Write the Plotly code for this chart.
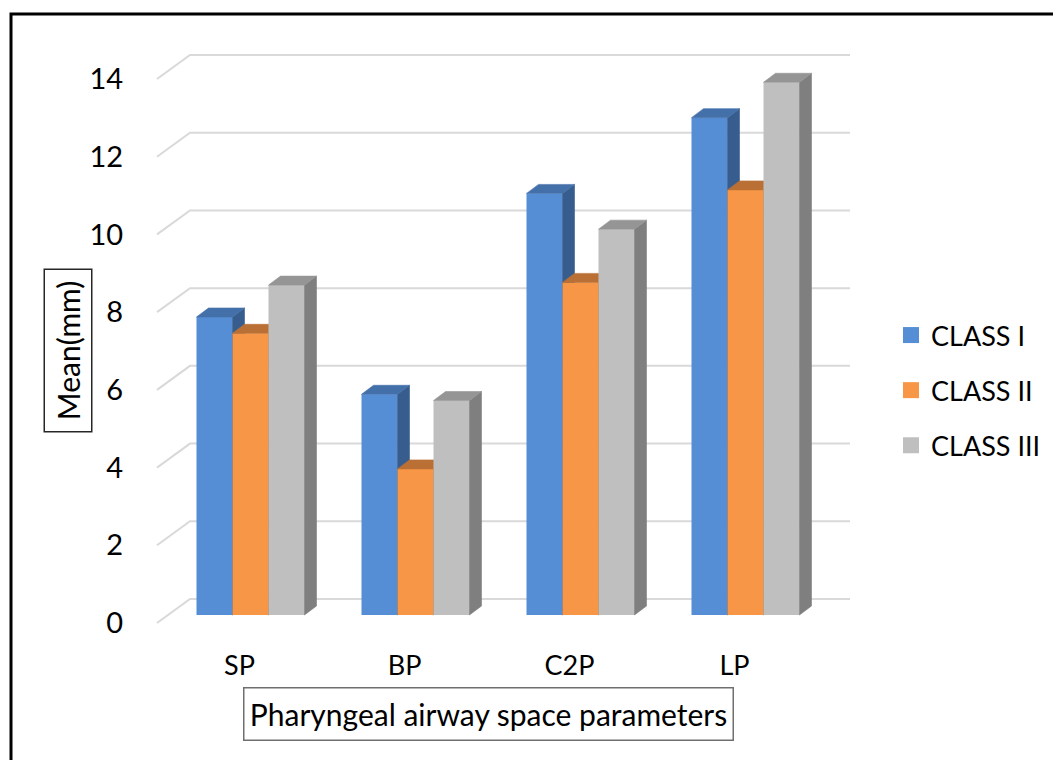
import plotly.graph_objects as go

# ---------------- data ----------------
categories = ["SP", "BP", "C2P", "LP"]
series_names = ["CLASS I", "CLASS II", "CLASS III"]
class_1 = [7.67, 5.68, 10.85, 12.80]
class_2 = [7.25, 3.76, 8.56, 10.94]
class_3 = [8.49, 5.52, 9.93, 13.71]
y_ticks = [0, 2, 4, 6, 8, 10, 12, 14]
x_title = "Pharyngeal airway space parameters"
y_title = "Mean(mm)"

# ---------------- styling / geometry ----------------
front_colors = ["#558ED5", "#F79646", "#BFBFBF"]
top_colors = ["#4470AA", "#BA7035", "#959595"]
side_colors = ["#375D8E", "#B4672A", "#7F7F7F"]
FONT = "Lato"
FS = 27

W, H = 1053, 760
PX_X = 165.0     # pixels per category slot
PX_Y = 38.857    # pixels per value unit
X0_PX = 250.5    # pixel of category 0 centre (bar plane)
Y0_PX = 615.0    # pixel of value 0 (bar plane)
PL, PR, PT, PB = 150, 870, 40, 640


def xd(px):
    return (px - X0_PX) / PX_X


def yd(py):
    return (Y0_PX - py) / PX_Y


def dxu(px):
    return px / PX_X


def dyu(px):
    return -px / PX_Y


# oblique depth offsets (pixels) relative to bar front plane
FRONT = (dxu(-11), dyu(8))
BACK = (dxu(22), dyu(-16))
BARD = (dxu(12), dyu(-9))
BAR_W = 36 / PX_X

series_values = [class_1, class_2, class_3]
n_cat = len(categories)
xpos = list(range(n_cat))

fig = go.Figure()

for k, (name, vals) in enumerate(zip(series_names, series_values)):
    ax = "" if k == 0 else str(k + 1)
    xa, ya = "x" + ax, "y" + ax
    off = -1.5 * BAR_W + k * BAR_W
    fig.add_trace(go.Bar(
        x=xpos, y=vals, width=[BAR_W] * n_cat, offset=off,
        marker=dict(color=front_colors[k], line=dict(width=0)),
        name=name, legendgroup=name, showlegend=False,
        xaxis=xa, yaxis=ya, hovertemplate="%{y}<extra>" + name + "</extra>",
    ))
    tx, ty, sx, sy = [], [], [], []
    for i, v in enumerate(vals):
        xl = i + off
        xr = xl + BAR_W
        ddx, ddy = BARD
        tx += [xl, xr, xr + ddx, xl + ddx, xl, None]
        ty += [v, v, v + ddy, v + ddy, v, None]
        sx += [xr, xr + ddx, xr + ddx, xr, xr, None]
        sy += [0, ddy, v + ddy, v, 0, None]
    fig.add_trace(go.Scatter(
        x=sx, y=sy, mode="lines", fill="toself", fillcolor=side_colors[k],
        line=dict(width=0.6, color=side_colors[k]), hoverinfo="skip",
        showlegend=False, xaxis=xa, yaxis=ya))
    fig.add_trace(go.Scatter(
        x=tx, y=ty, mode="lines", fill="toself", fillcolor=top_colors[k],
        line=dict(width=0.6, color=top_colors[k]), hoverinfo="skip",
        showlegend=False, xaxis=xa, yaxis=ya))

# legend entries
for k, name in enumerate(series_names):
    fig.add_trace(go.Scatter(
        x=[None], y=[None], mode="markers", name=name, legendgroup=name,
        marker=dict(symbol="square", size=16, color=front_colors[k]),
        xaxis="x", yaxis="y"))

# gridlines (front diagonal + back wall)
shapes = []
x_front = -0.5 + FRONT[0]
x_back = -0.5 + BACK[0]
x_back_end = n_cat - 0.5 + BACK[0]
for v in y_ticks:
    path = (f"M {x_front},{v + FRONT[1]} L {x_back},{v + BACK[1]} "
            f"L {x_back_end},{v + BACK[1]}")
    shapes.append(dict(type="path", path=path, xref="x", yref="y",
                       line=dict(color="#D9D9D9", width=2), layer="below"))

# outer border
shapes.append(dict(type="rect", xref="paper", yref="paper",
                   x0=11 / W, x1=1.05, y0=-0.05, y1=1 - 14 / H,
                   line=dict(color="black", width=3), layer="above"))

xrange = [xd(PL), xd(PR)]
yrange = [yd(PB), yd(PT)]
xdom = [PL / W, PR / W]
ydom = [1 - PB / H, 1 - PT / H]

axis_common = dict(showgrid=False, zeroline=False, showline=False)
fig.update_layout(
    width=W, height=H,
    margin=dict(l=0, r=0, t=0, b=0),
    paper_bgcolor="white", plot_bgcolor="rgba(0,0,0,0)",
    font=dict(family=FONT, size=FS, color="black"),
    showlegend=True,
    legend=dict(x=891 / W, y=1 - 311 / H, xanchor="left", yanchor="top",
                font=dict(family=FONT, size=FS), tracegroupgap=17,
                bgcolor="rgba(0,0,0,0)"),
    xaxis=dict(domain=xdom, range=xrange, tickmode="array",
               tickvals=[i + FRONT[0] for i in xpos], ticktext=categories,
               ticks="outside", ticklen=2, tickcolor="rgba(0,0,0,0)",
               fixedrange=True, **axis_common),
    yaxis=dict(domain=ydom, range=yrange, tickmode="array",
               tickvals=[v + FRONT[1] for v in y_ticks],
               ticktext=[str(v) for v in y_ticks],
               tickfont=dict(family=FONT, size=29),
               ticks="outside", ticklen=20, tickcolor="rgba(0,0,0,0)",
               fixedrange=True, **axis_common),
    xaxis2=dict(domain=xdom, range=xrange, overlaying="x", visible=False),
    yaxis2=dict(domain=ydom, range=yrange, overlaying="y", visible=False),
    xaxis3=dict(domain=xdom, range=xrange, overlaying="x", visible=False),
    yaxis3=dict(domain=ydom, range=yrange, overlaying="y", visible=False),
    shapes=shapes,
    annotations=[
        dict(text=y_title, xref="paper", yref="paper",
             x=68 / W, y=1 - 350.5 / H, xanchor="center", yanchor="middle",
             showarrow=False, textangle=-90, width=161, height=46,
             borderpad=0, bordercolor="#262626", borderwidth=1.5,
             font=dict(family=FONT, size=30)),
        dict(text=x_title, xref="paper", yref="paper",
             x=488 / W, y=1 - 713.5 / H, xanchor="center", yanchor="middle",
             showarrow=False, width=488, height=51,
             borderpad=0, bordercolor="#6F6F6F", borderwidth=1.5,
             font=dict(family=FONT, size=30)),
    ],
)

fig.write_html("out.html", config={"displayModeBar": False},
               post_script="document.body.style.margin='0';")
